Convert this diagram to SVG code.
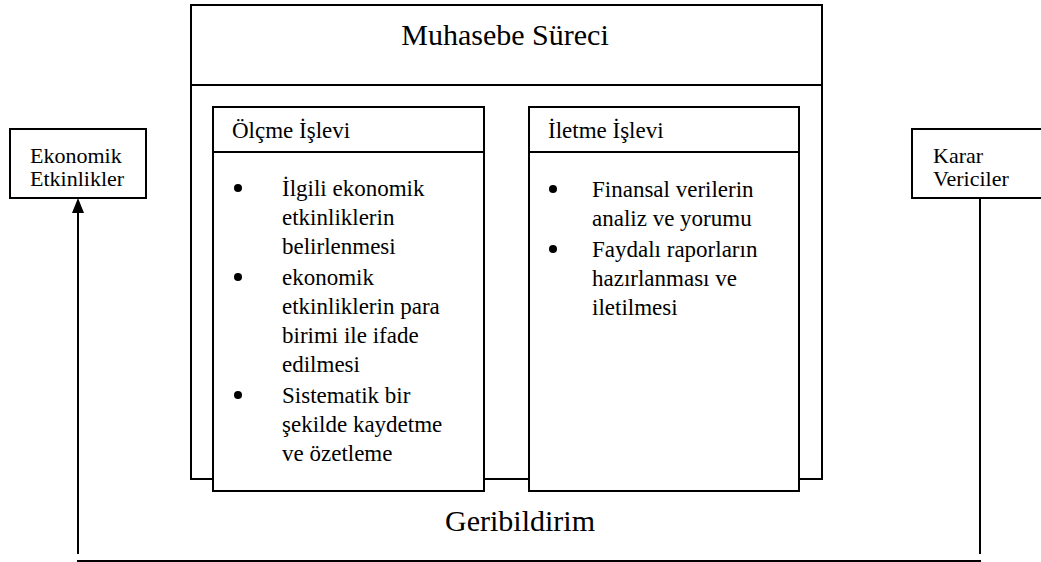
<svg xmlns="http://www.w3.org/2000/svg" width="1041" height="562" viewBox="0 0 1041 562" font-family="'Liberation Serif', 'Times New Roman', Tinos, serif">
<style>
.box{fill:#fff;stroke:#000;stroke-width:2}
.ln{stroke:#000;stroke-width:2;fill:none}
text{font-family:'Liberation Serif','Times New Roman',Tinos,serif;fill:#000}
.t{font-size:23px}
.s{font-size:22px}
.b{font-size:30px}
</style>
<g id="connectors">
<line class="ln" x1="78" y1="554" x2="78" y2="212"/>
<path d="M72,213 L78,198 L84,213 Z" fill="#000"/>
<line class="ln" x1="980" y1="198" x2="980" y2="554"/>
<line class="ln" x1="77" y1="561" x2="981" y2="561"/>
</g>
<g id="ekonomik">
<rect class="box" x="10" y="129" width="136" height="69"/>
<text class="s" x="30" y="163">Ekonomik</text>
<text class="s" x="30" y="186">Etkinlikler</text>
</g>
<g id="karar">
<rect class="box" x="912" y="129" width="140" height="69"/>
<text class="s" x="933" y="163">Karar</text>
<text class="s" x="933" y="186">Vericiler</text>
</g>
<g id="muhasebe">
<rect class="box" x="191" y="5" width="631" height="474"/>
<line class="ln" x1="191" y1="85" x2="822" y2="85"/>
<text class="b" x="505" y="45" text-anchor="middle">Muhasebe Süreci</text>
</g>
<g id="olcme">
<rect class="box" x="213" y="107" width="271" height="384"/>
<line class="ln" x1="213" y1="152" x2="484" y2="152"/>
<text class="t" x="232" y="138">Ölçme İşlevi</text>
<circle cx="238" cy="188" r="4"/>
<circle cx="238" cy="277" r="4"/>
<circle cx="238" cy="395" r="4"/>
<text class="t" x="282" y="196">İlgili ekonomik</text>
<text class="t" x="282" y="225">etkinliklerin</text>
<text class="t" x="282" y="254">belirlenmesi</text>
<text class="t" x="282" y="285">ekonomik</text>
<text class="t" x="282" y="314">etkinliklerin para</text>
<text class="t" x="282" y="343">birimi ile ifade</text>
<text class="t" x="282" y="372">edilmesi</text>
<text class="t" x="282" y="403">Sistematik bir</text>
<text class="t" x="282" y="432">şekilde kaydetme</text>
<text class="t" x="282" y="461">ve özetleme</text>
</g>
<g id="iletme">
<rect class="box" x="529" y="107" width="270" height="384"/>
<line class="ln" x1="529" y1="152" x2="799" y2="152"/>
<text class="t" x="548" y="138">İletme İşlevi</text>
<circle cx="553" cy="189" r="4"/>
<circle cx="553" cy="249" r="4"/>
<text class="t" x="592" y="197">Finansal verilerin</text>
<text class="t" x="592" y="226">analiz ve yorumu</text>
<text class="t" x="592" y="257">Faydalı raporların</text>
<text class="t" x="592" y="286">hazırlanması ve</text>
<text class="t" x="592" y="315">iletilmesi</text>
</g>
<text class="b" x="520" y="531" text-anchor="middle">Geribildirim</text>
</svg>
